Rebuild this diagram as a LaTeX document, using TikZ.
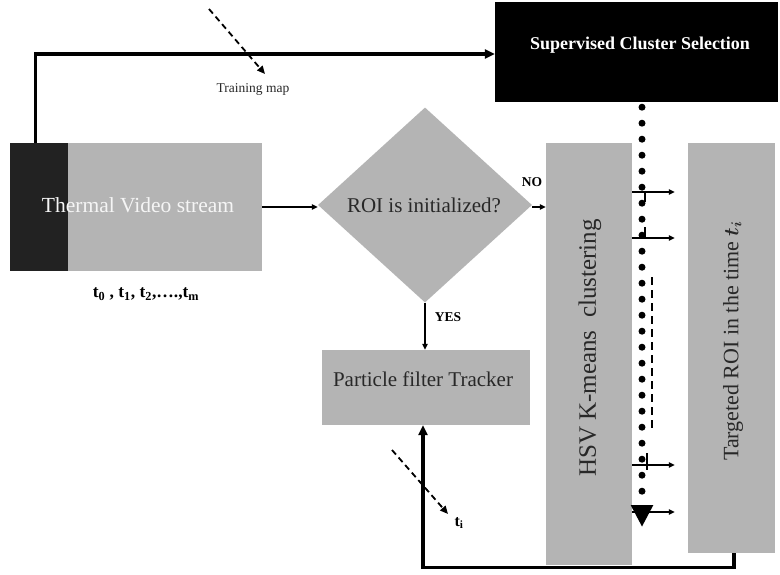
\documentclass[tikz,border=0pt]{standalone}
\usepackage{fontspec}
\setmainfont{Liberation Serif}
\usepackage{tikz}
\usetikzlibrary{positioning}
\usetikzlibrary{shapes.geometric,arrows.meta}
\usepackage{xcolor}
\usepackage{amsmath}
\definecolor{boxgray}{RGB}{180,180,180}
\definecolor{stripdark}{RGB}{34,34,34}
\definecolor{textdark}{RGB}{40,40,40}

\begin{document}
\begin{tikzpicture}[x = 1pt, y = -1pt,
  every node/.style = {inner sep = 0pt, text = textdark},
  graybox/.style = {rectangle, fill = boxgray},
  decision/.style = {diamond, fill = boxgray},
  bigline/.style = {line width = 3.3pt, -{Triangle[length = 10pt, width = 9pt]}},
  smallline/.style = {line width = 1.2pt, -{Triangle[length = 6pt, width = 5.5pt]}},
  dashline/.style = {line width = 1.8pt, dash pattern = on 6pt off 4pt,
    -{Triangle[length = 8pt, width = 7pt]}},
  dotline/.style = {line width = 7pt, line cap = round, dash pattern = on 0pt off 16pt,
    -{Triangle[length = 22pt, width = 21pt]}},
  flaglabel/.style = {font = \bfseries\fontsize{13.5}{15}\selectfont, text = black}
]
\useasboundingbox (0,0) rectangle (780,574);
\fill[white] (0,0) rectangle (780,574);

\node[graybox, minimum width = 252pt, minimum height = 128pt] (video) at (136,207) {};
\fill[stripdark] (video.north west) rectangle ++(58,128);
\node[text = white!92!gray, font = \fontsize{21.5}{24}\selectfont] (videotxt) at (138,205) {Thermal Video stream};
\node[font = \bfseries\fontsize{17.5}{20}\selectfont, text = black] (times) at (146,294)
    {t\textsubscript{0} , t\textsubscript{1}, t\textsubscript{2},….,t\textsubscript{m}};

\node[fill = black, minimum width = 283pt, minimum height = 100pt] (sup) at (636.5,52) {};
\node[text = white, font = \bfseries\fontsize{18}{21}\selectfont] (suptxt) at (640,45) {Supervised Cluster Selection};

\node[decision, minimum width = 214pt, minimum height = 195pt] (roi) at (425,205) {};
\node[font = \fontsize{21}{24}\selectfont] (roitxt) at (424,205) {ROI is initialized?};

\node[graybox, minimum width = 208pt, minimum height = 75pt] (particle) at (426,387.5) {};
\node[font = \fontsize{21}{24}\selectfont] (particletxt) at (423,379) {Particle filter Tracker};

\node[graybox, minimum width = 86pt, minimum height = 422pt] (hsv) at (589,354) {};
\node[rotate = 90, font = \fontsize{25}{28}\selectfont] (hsvtxt) at (590,348) {HSV K-means\ \ clustering};

\node[graybox, minimum width = 87pt, minimum height = 410pt] (target) at (731.5,348) {};
\node[rotate = 90, font = \fontsize{22}{25}\selectfont] (targettxt) at (733,341) {Targeted ROI in the time $\boldsymbol{t_i}$};

% training map
\coordinate (trainstart) at (209,9);
\coordinate (trainend) at (265,74);
\node[font = \fontsize{13.5}{16}\selectfont] (trainlbl) at (253,89) {Training map};
\node[flaglabel] (nolbl) at (532,182) {NO};
\node[flaglabel] (yeslbl) at (448,317) {YES};
\coordinate (tistart) at (392,450);
\coordinate (tiend) at (448,514);
\node[font = \bfseries\fontsize{16}{18}\selectfont, text = black] (tilbl) at (459,523) {t\textsubscript{i}};
\coordinate (dotend) at (642,527);

\draw[bigline] ([xshift = 26pt]video.north west) |- ([yshift = -2pt]sup.west);
\draw[dashline] (trainstart) -- (trainend);
\draw[smallline] (video.east) -- (roi.west |- video.east);
\draw[smallline] (roi.east |- video.east) -- (hsv.west |- video.east);
\draw[smallline] (roi.south) -- (particle.north -| roi.south);
\draw[dotline, shorten < = 5pt] (sup.south -| dotend) -- (dotend);
\foreach \y in {192, 238, 465, 512}
    \draw[smallline, shorten > = 13pt] (hsv.east |- 0,\y) -- (target.west |- 0,\y);
\draw[line width = 1.2pt] (645,192) -- (645,202);
\draw[line width = 1.2pt] (645,227) -- (645,238);
\draw[line width = 1.2pt] (647,453) -- (647,470);
\draw[line width = 1.2pt, dash pattern = on 8pt off 5pt] (652,277) -- (652,428);
\draw[bigline] ([xshift = 2.5pt]target.south) -- ++(0,14) -| ([xshift = -3pt]particle.south);
\draw[dashline] (tistart) -- (tiend);
\end{tikzpicture}
\end{document}
